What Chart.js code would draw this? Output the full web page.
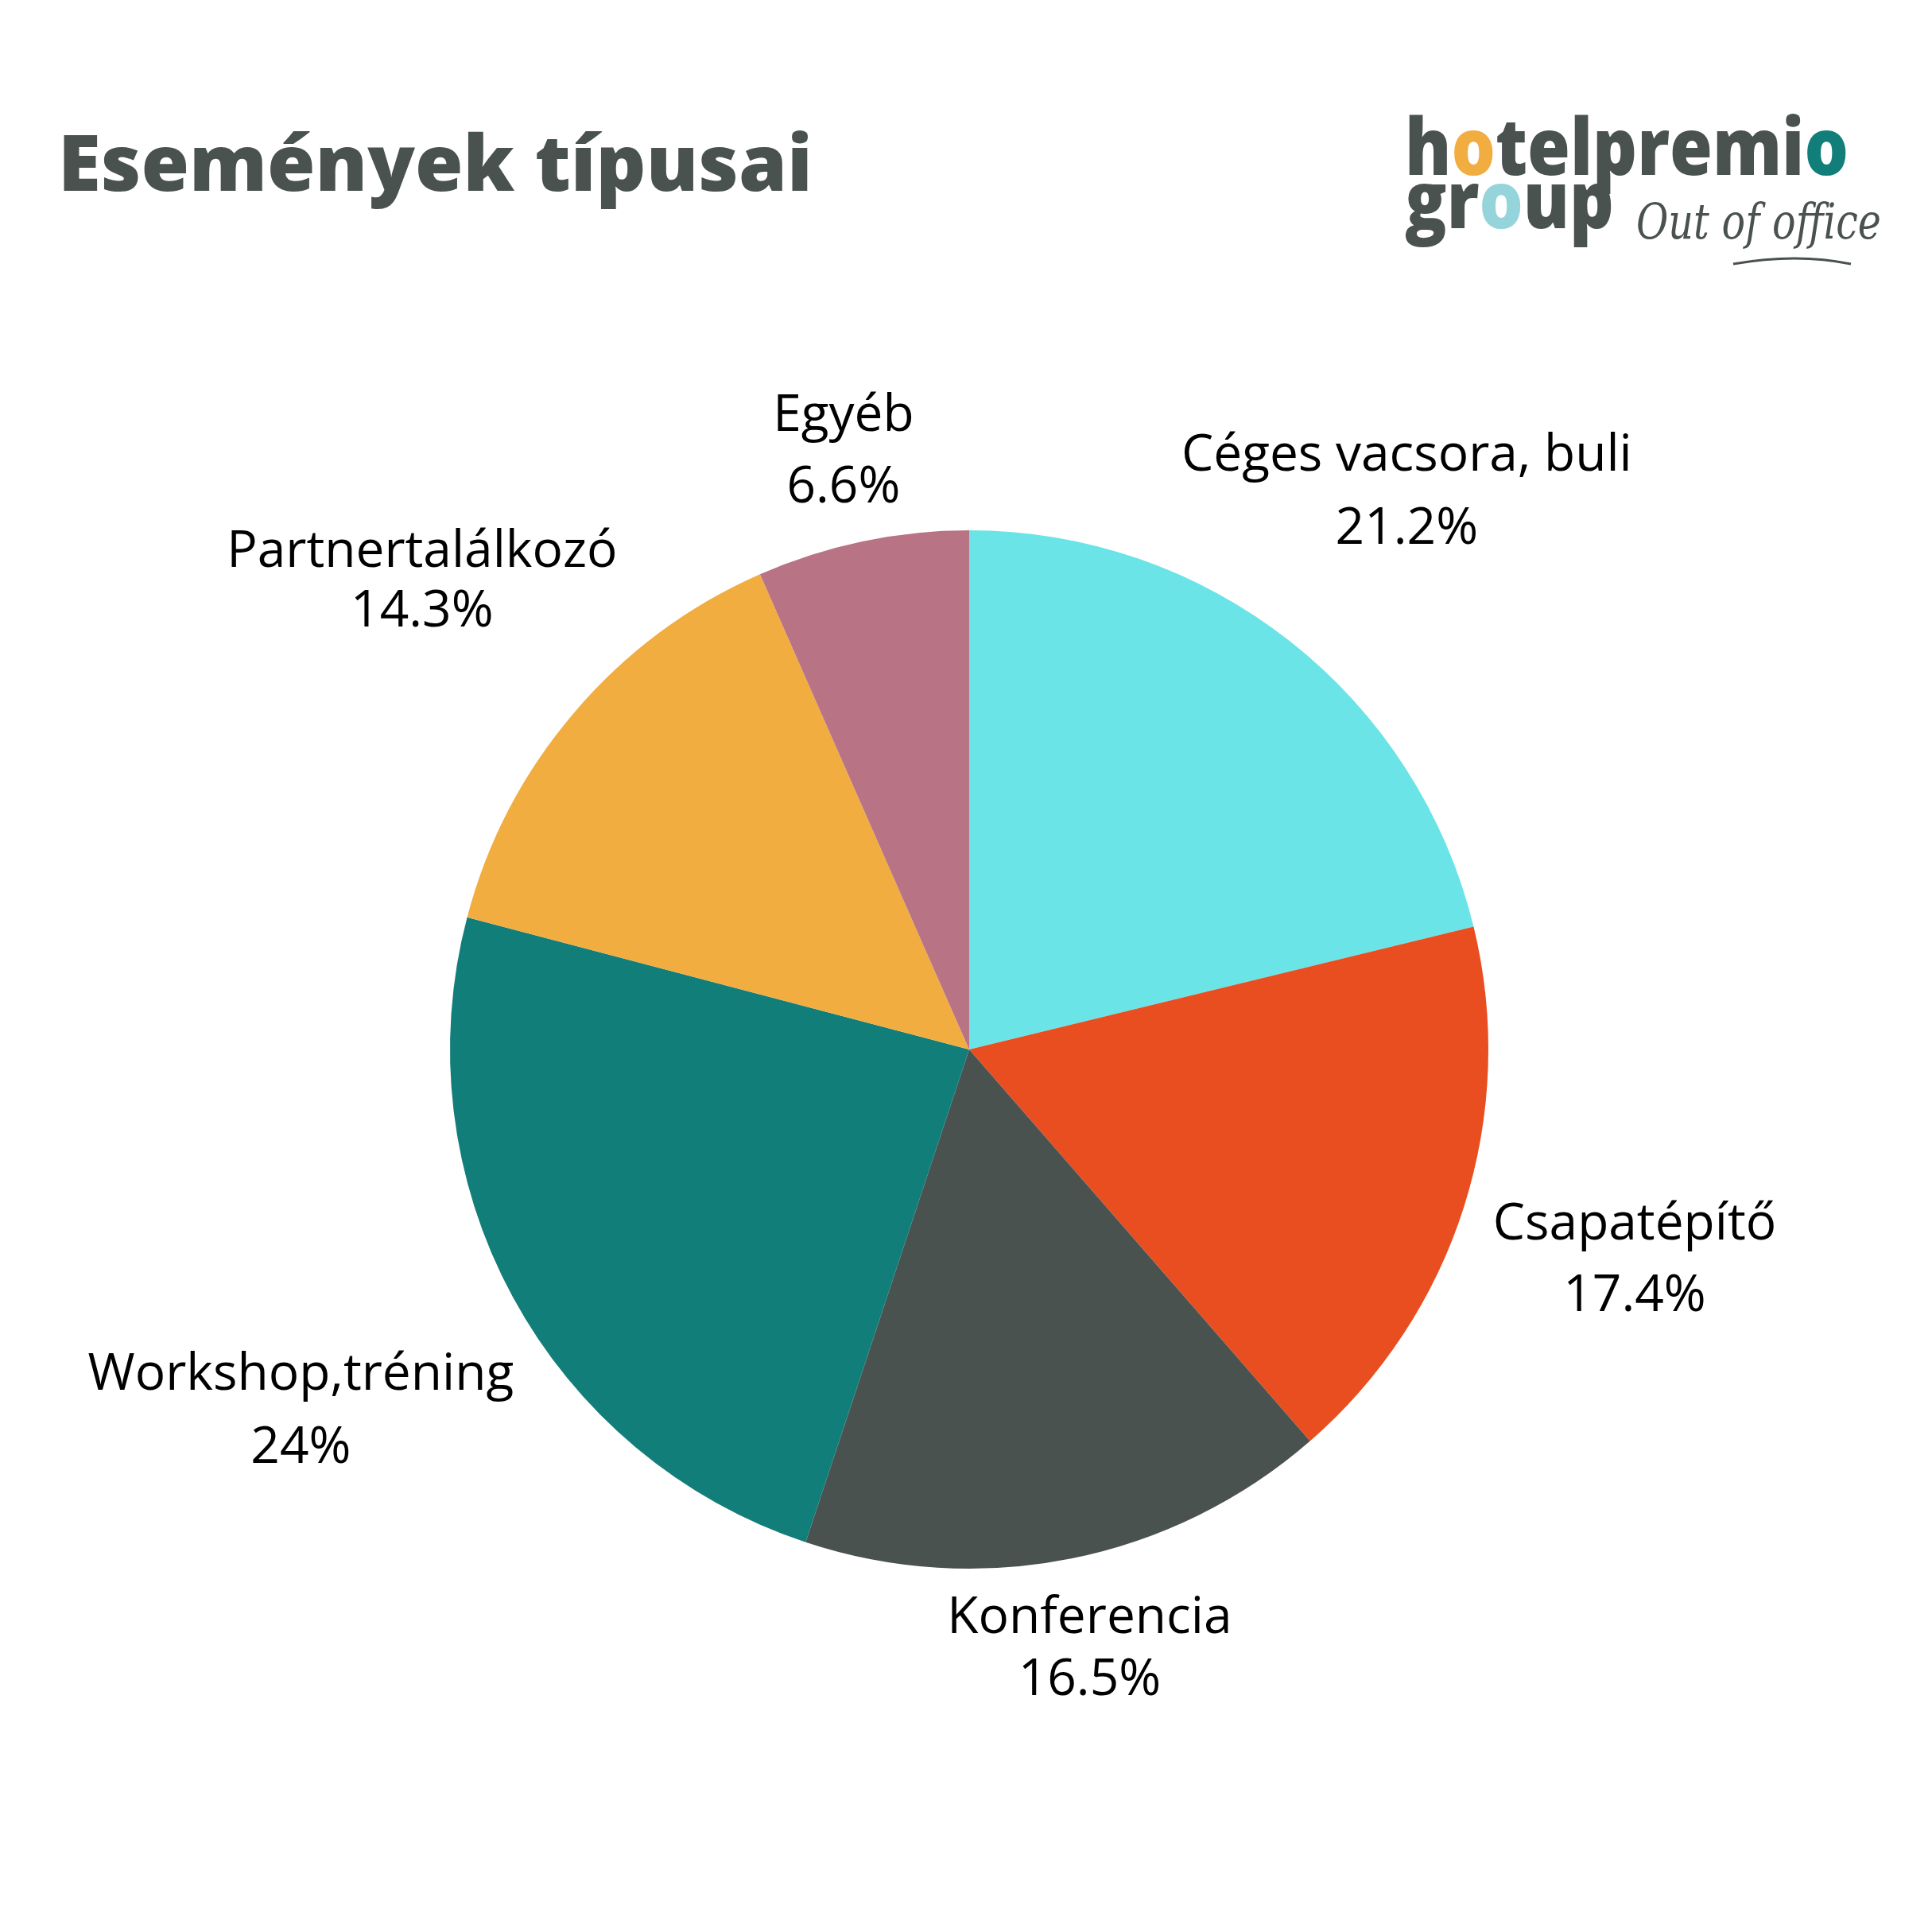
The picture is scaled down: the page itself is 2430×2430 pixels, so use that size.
<!DOCTYPE html>
<html>
<head>
<meta charset="utf-8">
<script src="https://cdn.jsdelivr.net/npm/chart.js@4.4.1/dist/chart.umd.min.js"></script>
<style>
  html, body { margin: 0; padding: 0; background: #ffffff; }
  #wrap { width: 2430px; height: 2430px; position: relative; }
</style>
</head>
<body>
<div id="wrap"><canvas id="eventTypesChart" width="2430" height="2430"></canvas></div>
<script>
// data
const categories = ["Céges vacsora, buli", "Csapatépítő", "Konferencia", "Workshop,tréning", "Partnertalálkozó", "Egyéb"];
const shares = [21.2, 17.4, 16.5, 24, 14.3, 6.6];
const shareLabels = ["21.2%", "17.4%", "16.5%", "24%", "14.3%", "6.6%"];

const sliceColors = ["#6be4e8", "#e84e20", "#4a5250", "#127e7a", "#f2ad41", "#b87385"];
const darkGrey = "#4a5250";

// how far out each label sits (x radius) and the gap between its two lines
const labelLayout = [
  { dist: 1.364, gap: 92 },
  { dist: 1.345, gap: 90 },
  { dist: 1.179, gap: 78 },
  { dist: 1.464, gap: 92 },
  { dist: 1.386, gap: 75 },
  { dist: 1.176, gap: 90 },
];

// labels outside the slices
const outerLabels = {
  id: "outerLabels",
  afterDatasetsDraw(chart) {
    const ctx = chart.ctx;
    const meta = chart.getDatasetMeta(0);
    ctx.save();
    ctx.fillStyle = "#000000";
    ctx.font = "64px 'Open Sans'";
    ctx.textAlign = "center";
    ctx.textBaseline = "middle";
    meta.data.forEach((arc, i) => {
      const p = arc.getProps(["x", "y", "startAngle", "endAngle", "outerRadius"], true);
      const mid = (p.startAngle + p.endAngle) / 2;
      const d = p.outerRadius * labelLayout[i].dist;
      const x = p.x + Math.cos(mid) * d;
      const y = p.y + Math.sin(mid) * d;
      const g = labelLayout[i].gap / 2;
      ctx.fillText(categories[i], x, y - g);
      ctx.fillText(shareLabels[i], x, y + g);
    });
    ctx.restore();
  }
};

// title + logo
const header = {
  id: "header",
  afterDraw(chart) {
    const ctx = chart.ctx;
    ctx.save();
    ctx.fillStyle = darkGrey;
    ctx.textBaseline = "alphabetic";
    ctx.textAlign = "left";
    ctx.font = "800 98px 'Open Sans'";
    ctx.fillText("Események típusai", 73, 240);

    // logo words, letter by letter so the o's can be coloured
    function word(text, colors, x, y, width) {
      ctx.font = "800 100px 'Open Sans'";
      const full = ctx.measureText(text).width;
      const sx = width / full;
      ctx.save();
      ctx.translate(x, y);
      ctx.scale(sx, 1);
      let cx = 0;
      for (let i = 0; i < text.length; i++) {
        ctx.fillStyle = colors[i] || darkGrey;
        ctx.fillText(text[i], cx, 0);
        cx += ctx.measureText(text[i]).width;
      }
      ctx.restore();
    }
    word("hotelpremio", { 1: "#f2ad41", 10: "#127e7a" }, 1767, 220, 558);
    word("group", { 2: "#96d4dc" }, 1767, 287, 263);

    ctx.fillStyle = darkGrey;
    ctx.font = "italic 300 62px 'DejaVu Serif'";
    ctx.save();
    ctx.translate(2058, 300);
    const w = ctx.measureText("Out of office").width;
    ctx.scale(308 / w, 1);
    ctx.fillText("Out of office", 0, 0);
    ctx.restore();
    ctx.strokeStyle = darkGrey;
    ctx.lineWidth = 3;
    ctx.beginPath();
    ctx.moveTo(2180, 332);
    ctx.quadraticCurveTo(2260, 318, 2328, 332);
    ctx.stroke();
    ctx.restore();
  }
};

const eventTypesChart = new Chart(document.getElementById("eventTypesChart"), {
  type: "pie",
  data: {
    labels: categories,
    datasets: [{
      data: shares,
      backgroundColor: sliceColors,
      borderWidth: 0,
    }]
  },
  options: {
    responsive: false,
    animation: false,
    layout: { padding: { left: 566, right: 558, top: 667, bottom: 457 } },
    plugins: {
      legend: { display: false },
      tooltip: { enabled: false },
    }
  },
  plugins: [outerLabels, header]
});
</script>
</body>
</html>
